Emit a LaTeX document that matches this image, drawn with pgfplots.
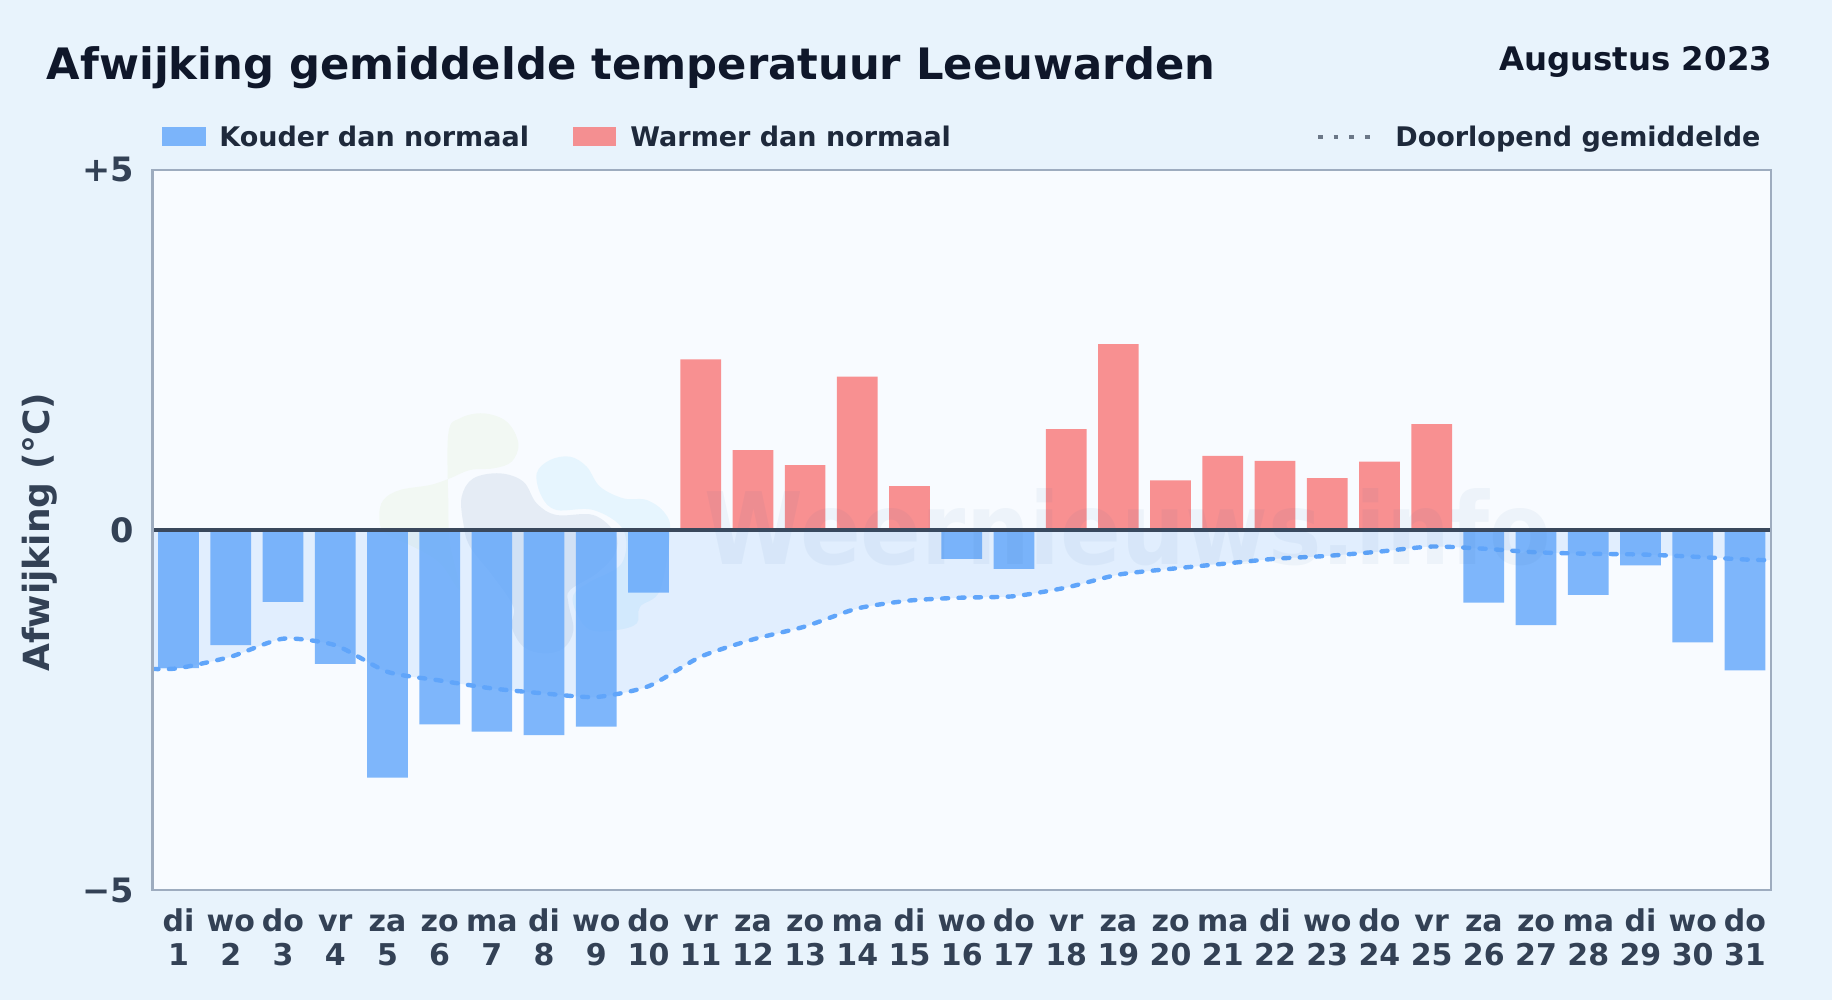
\documentclass[border=0pt]{standalone}
\usepackage{fontspec}
\setmainfont{DejaVu Sans}
\usepackage{pgfplots}
\pgfplotsset{compat=1.18}
\usepackage{pgfplotstable}

\definecolor{pagebg}{HTML}{E8F3FC}
\definecolor{plotbg}{HTML}{F8FBFF}
\definecolor{framecol}{HTML}{9EACBF}
\definecolor{zerocol}{HTML}{3A485C}
\definecolor{titlecol}{HTML}{0F172A}
\definecolor{legcol}{HTML}{1E293B}
\definecolor{labcol}{HTML}{334155}
\definecolor{dotcol}{HTML}{6B7787}
\definecolor{coldbar}{HTML}{60A5FA}
\definecolor{warmbar}{HTML}{F87171}
\definecolor{wmtext}{HTML}{2563A0}
\definecolor{wmgreen}{HTML}{84CC16}
\definecolor{wmgrey}{HTML}{2A5F95}
\definecolor{wmblue}{HTML}{38BDF8}

% two-line day label, same height whatever the letters
\newcommand{\dl}[2]{\rule{0pt}{11.5pt}#1\\#2}

% day, deviation
\pgfplotstableread{
x y
1 -1.92
2 -1.60
3 -1.00
4 -1.86
5 -3.44
6 -2.70
7 -2.80
8 -2.85
9 -2.73
10 -0.87
16 -0.40
17 -0.54
26 -1.01
27 -1.32
28 -0.90
29 -0.49
30 -1.56
31 -1.95
}\koud
\pgfplotstableread{
x y
11 2.37
12 1.11
13 0.90
14 2.13
15 0.61
18 1.40
19 2.58
20 0.69
21 1.03
22 0.96
23 0.72
24 0.95
25 1.47
}\warm
% running mean
\pgfplotstableread{
x y
0.5 -1.93
1 -1.92
2 -1.76
3 -1.51
4 -1.60
5 -1.97
6 -2.09
7 -2.20
8 -2.27
9 -2.32
10 -2.17
11 -1.76
12 -1.52
13 -1.34
14 -1.09
15 -0.98
16 -0.94
17 -0.92
18 -0.80
19 -0.62
20 -0.54
21 -0.47
22 -0.40
23 -0.36
24 -0.30
25 -0.23
26 -0.26
27 -0.31
28 -0.33
29 -0.34
30 -0.37
31 -0.41
31.5 -0.42
}\gem

\begin{document}
\begin{tikzpicture}[x=0.5pt,y=0.5pt]
\useasboundingbox (0,0) rectangle (1832,1000);
\fill[pagebg] (0,0) rectangle (1832,1000);
\fill[plotbg] (152.5,110) rectangle (1771,830);

% watermark logo, under the bars
\begin{scope}[shift={(360,610)}, x=0.1667pt, y=-0.1667pt]
\fill[wmgreen, opacity=0.05] plot[smooth cycle, tension=0.6] coordinates {
  (265,130) (300,85) (370,70) (440,95) (475,160) (455,215) (400,235) (330,240) (270,265) (210,285)
  (120,300) (70,330) (58,380) (75,430) (160,470) (240,520) (300,600) (270,460) (265,340)};
\fill[wmgrey, opacity=0.09] plot[smooth cycle, tension=0.6] coordinates {
  (305,320) (340,265) (420,250) (490,275) (530,340) (590,375) (700,375) (765,430) (765,490) (710,550)
  (630,600) (625,640) (640,720) (610,775) (550,790) (490,770) (455,710) (460,650) (400,560) (330,470) (310,400)};
\fill[wmblue, opacity=0.09] plot[smooth cycle, tension=0.6] coordinates {
  (530,250) (570,210) (630,200) (680,230) (720,290) (790,325) (860,330) (915,370) (930,430) (900,600)
  (840,650) (830,700) (770,720) (690,720) (650,670) (640,615) (690,575) (785,520) (790,420) (700,360) (590,360) (545,320)};
\end{scope}

\begin{axis}[
    at={(76.25pt,55pt)}, anchor=south west,
    scale only axis, width=809.25pt, height=360pt,
    xmin=0.5, xmax=31.5, ymin=-5, ymax=5,
    axis line style={draw=none},
    tick style={draw=none},
    xtick={1,...,31},
    xticklabels={{\dl{di}{1}},{\dl{wo}{2}},{\dl{do}{3}},{\dl{vr}{4}},{\dl{za}{5}},{\dl{zo}{6}},{\dl{ma}{7}},{\dl{di}{8}},{\dl{wo}{9}},{\dl{do}{10}},
      {\dl{vr}{11}},{\dl{za}{12}},{\dl{zo}{13}},{\dl{ma}{14}},{\dl{di}{15}},{\dl{wo}{16}},{\dl{do}{17}},{\dl{vr}{18}},{\dl{za}{19}},{\dl{zo}{20}},
      {\dl{ma}{21}},{\dl{di}{22}},{\dl{wo}{23}},{\dl{do}{24}},{\dl{vr}{25}},{\dl{za}{26}},{\dl{zo}{27}},{\dl{ma}{28}},{\dl{di}{29}},{\dl{wo}{30}},{\dl{do}{31}}},
    xticklabel style={align=center, font=\fontsize{15}{17}\selectfont\bfseries, text=labcol, inner sep=0pt, yshift=-5pt},
    ytick={-5,0,5},
    yticklabels={−5,0,+5},
    yticklabel style={font=\fontsize{16.8}{18}\selectfont\bfseries, text=labcol, inner sep=0pt, xshift=-9pt},
    ylabel={Afwijking (°C)},
    every axis y label/.style={at={(axis description cs:-0.0695,0.497)}, rotate=90, anchor=center,
      font=\fontsize{18}{20}\selectfont\bfseries, text=labcol},
    ybar, bar shift=0pt, bar width=0.78,
]
% fill between running mean and zero
\addplot[sharp plot, smooth, tension=0.4, draw=none, fill=coldbar, fill opacity=0.15, forget plot] table {\gem} \closedcycle;
\addplot[ybar, draw=none, fill=coldbar, fill opacity=0.8] table {\koud};
\addplot[ybar, draw=none, fill=warmbar, fill opacity=0.77] table {\warm};
\addplot[sharp plot, smooth, tension=0.4, coldbar, line width=2.2pt, line cap=round,
    dash pattern=on 3pt off 5.2pt] table {\gem};
\addplot[sharp plot, zerocol, line width=2pt] coordinates {(0.5,0) (31.5,0)};
\end{axis}
\draw[framecol, line width=1.4pt] (152.5,110) rectangle (1771,830);

\node[anchor=base west, inner sep=0pt, font=\fontsize{50}{50}\selectfont\bfseries, text=wmtext, opacity=0.05, xscale=0.897] at (704,435) {Weernieuws.info};

% header
\node[anchor=base west, inner sep=0pt, font=\fontsize{21.65}{24}\selectfont\bfseries, text=titlecol] at (46.5,920) {Afwijking gemiddelde temperatuur Leeuwarden};
\node[anchor=base east, inner sep=0pt, font=\fontsize{16.2}{18}\selectfont\bfseries, text=titlecol] at (1772.5,929) {Augustus 2023};

% legend
\fill[coldbar, opacity=0.8] (162,854) rectangle (206,873);
\node[anchor=base west, inner sep=0pt, font=\fontsize{13.5}{15}\selectfont\bfseries, text=legcol] at (219,853) {Kouder dan normaal};
\fill[warmbar, opacity=0.77] (573,854) rectangle (616,873);
\node[anchor=base west, inner sep=0pt, font=\fontsize{13.5}{15}\selectfont\bfseries, text=legcol] at (630,853) {Warmer dan normaal};
\draw[dotcol, line width=2.4pt, dash pattern=on 2.4pt off 5.4pt] (1318,863) -- (1376,863);
\node[anchor=base west, inner sep=0pt, font=\fontsize{13.5}{15}\selectfont\bfseries, text=legcol] at (1395,853) {Doorlopend gemiddelde};
\end{tikzpicture}
\end{document}
